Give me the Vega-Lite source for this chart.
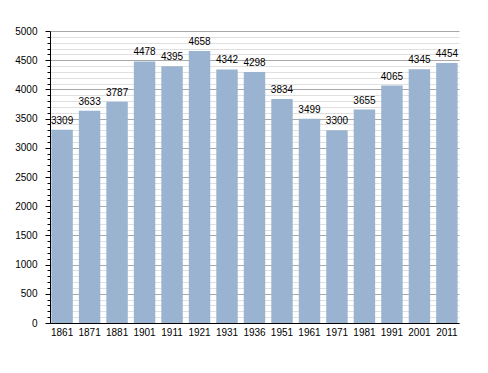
{
  "$schema": "https://vega.github.io/schema/vega-lite/v6.json",
  "width": 409,
  "height": 292,
  "autosize": {"type": "none"},
  "padding": {"left": 50, "top": 31, "right": 29, "bottom": 50},
  "background": "white",
  "config": {
    "view": {"stroke": null},
    "font": "Liberation Sans"
  },
  "data": {
    "values": [
      {"year": "1861", "pop": 3309},
      {"year": "1871", "pop": 3633},
      {"year": "1881", "pop": 3787},
      {"year": "1901", "pop": 4478},
      {"year": "1911", "pop": 4395},
      {"year": "1921", "pop": 4658},
      {"year": "1931", "pop": 4342},
      {"year": "1936", "pop": 4298},
      {"year": "1951", "pop": 3834},
      {"year": "1961", "pop": 3499},
      {"year": "1971", "pop": 3300},
      {"year": "1981", "pop": 3655},
      {"year": "1991", "pop": 4065},
      {"year": "2001", "pop": 4345},
      {"year": "2011", "pop": 4454}
    ]
  },
  "encoding": {
    "x": {
      "field": "year",
      "type": "ordinal",
      "sort": null,
      "scale": {"paddingInner": 0.22, "paddingOuter": 0.05},
      "axis": {
        "title": null,
        "labelAngle": 0,
        "labelFontSize": 10,
        "labelColor": "#000",
        "labelPadding": 4,
        "ticks": false,
        "tickSize": 0,
        "domainColor": "#000",
        "domainWidth": 1
      }
    }
  },
  "resolve": {"axis": {"y": "independent"}},
  "layer": [
    {
      "mark": {"type": "text", "baseline": "bottom", "dy": -4, "fontSize": 10, "color": "#000", "opacity": 0},
      "encoding": {
        "y": {
          "field": "pop",
          "type": "quantitative",
          "scale": {"domain": [0, 5000], "nice": false},
          "axis": {
            "orient": "left",
            "title": null,
            "values": [100,200,300,400,600,700,800,900,1100,1200,1300,1400,1600,1700,1800,1900,2100,2200,2300,2400,2600,2700,2800,2900,3100,3200,3300,3400,3600,3700,3800,3900,4100,4200,4300,4400,4600,4700,4800,4900],
            "grid": true,
            "gridColor": "#e0e0e0",
            "gridWidth": 1,
            "labels": false,
            "tickSize": 3,
            "tickColor": "#000",
            "domain": false,
            "zindex": 0
          }
        },
        "text": {"field": "pop", "type": "quantitative", "format": "d"}
      }
    },
    {
      "mark": {"type": "bar", "color": "#9ab3d0"},
      "encoding": {
        "y": {
          "field": "pop",
          "type": "quantitative",
          "scale": {"domain": [0, 5000], "nice": false},
          "axis": {
            "orient": "left",
            "title": null,
            "format": "d",
            "values": [0, 500, 1000, 1500, 2000, 2500, 3000, 3500, 4000, 4500, 5000],
            "grid": true,
            "gridColor": "#a8a8a8",
            "gridWidth": 1,
            "labelFontSize": 10,
            "labelColor": "#000",
            "labelPadding": 8,
            "tickSize": 5,
            "tickColor": "#000",
            "domainColor": "#000",
            "zindex": 0
          }
        }
      }
    },
    {
      "mark": {"type": "text", "baseline": "bottom", "dy": -4, "fontSize": 10, "color": "#000"},
      "encoding": {
        "y": {"field": "pop", "type": "quantitative", "axis": null},
        "text": {"field": "pop", "type": "quantitative", "format": "d"}
      }
    }
  ]
}
